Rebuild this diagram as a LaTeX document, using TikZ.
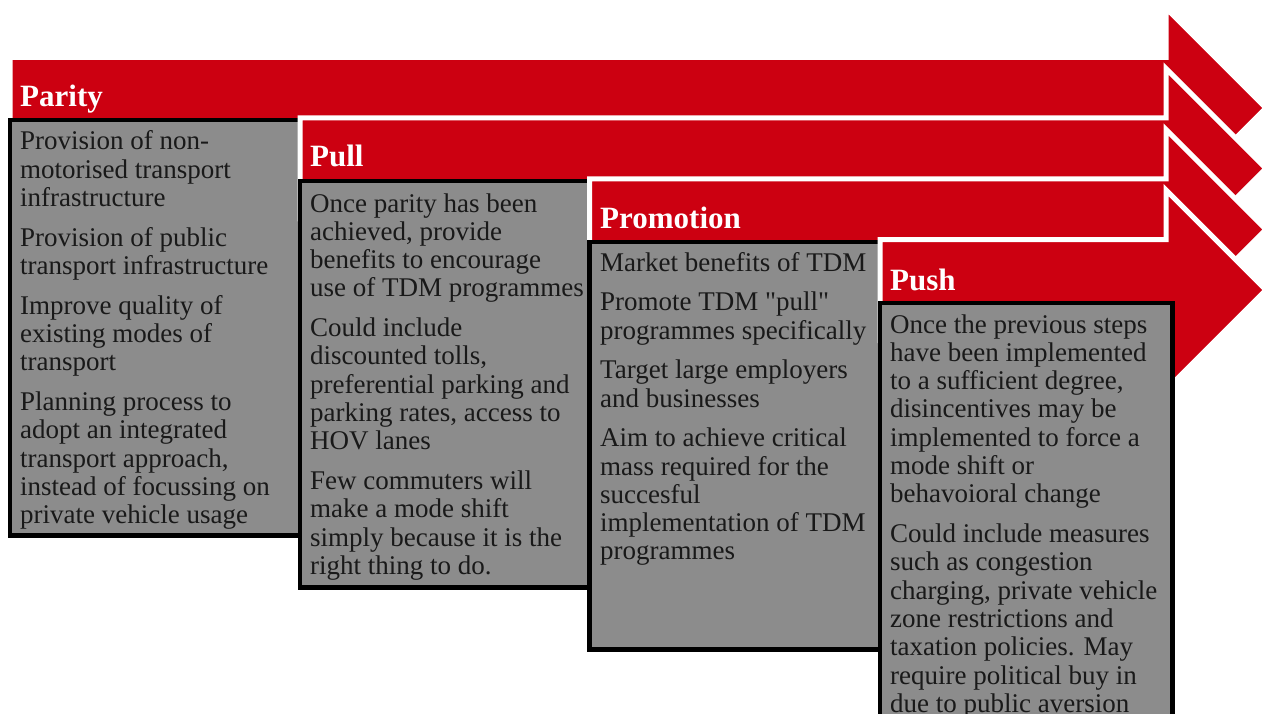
\documentclass[tikz,border=0pt]{standalone}
\usepackage{fontspec}
\setmainfont{Liberation Serif}
\definecolor{arrred}{RGB}{204,0,17}
\definecolor{boxgray}{RGB}{140,140,140}
\definecolor{textdark}{RGB}{25,25,25}
\newcommand\stagearrow[2]{%
  \draw[arrowshape] (#1,#2-50.5) -- (1166,#2-50.5) -- (1166,#2-100) -- (1266,#2)
    -- (1166,#2+100) -- (1166,#2+50.5) -- (#1,#2+50.5) -- cycle;}
\newcommand\tline[4]{\node[body] (#1) at (#2,#3) {#4};}
\begin{document}
\begin{tikzpicture}[x=1pt,y=-1pt,
  arrowshape/.style={fill=arrred, draw=white, line width=5pt, line join=miter, miter limit=10},
  panel/.style={fill=boxgray, draw=black, line width=4.5pt},
  title/.style={anchor=base west, inner sep=0pt, text=white, font=\fontsize{31}{34}\selectfont\bfseries},
  body/.style={anchor=base west, inner sep=0pt, text=textdark, font=\fontsize{27}{28}\selectfont}]
\useasboundingbox (0,0) rectangle (1266,714);
\clip (0,0) rectangle (1266,714);

% ---- stage 1: Parity
\stagearrow{10}{108}
\node[title] (tparity) at (20,107) {Parity};
\draw[panel] (10,120) rectangle (300,535.5);
\tline{a1}{20}{150}{Provision of non-}
\tline{a2}{20}{178.3}{motorised transport}
\tline{a3}{20}{206.6}{infrastructure}
\tline{a4}{20}{246.3}{Provision of public}
\tline{a5}{20}{274.6}{transport infrastructure}
\tline{a6}{20}{314.3}{Improve quality of}
\tline{a7}{20}{342.6}{existing modes of}
\tline{a8}{20}{370.9}{transport}
\tline{a9}{20}{410.6}{Planning process to}
\tline{a10}{20}{438.9}{adopt an integrated}
\tline{a11}{20}{467.2}{transport approach,}
\tline{a12}{20}{495.5}{instead of focussing on}
\tline{a13}{20}{523.8}{private vehicle usage}

% ---- stage 2: Pull
\stagearrow{300}{168.5}
\node[title] (tpull) at (310,167) {Pull};
\draw[panel] (300,181) rectangle (589.5,587.5);
\tline{b1}{310}{212}{Once parity has been}
\tline{b2}{310}{240.3}{achieved, provide}
\tline{b3}{310}{268.6}{benefits to encourage}
\tline{b4}{310}{296.9}{use of TDM programmes}
\tline{b5}{310}{336.6}{Could include}
\tline{b6}{310}{364.9}{discounted tolls,}
\tline{b7}{310}{393.2}{preferential parking and}
\tline{b8}{310}{421.5}{parking rates, access to}
\tline{b9}{310}{449.8}{HOV lanes}
\tline{b10}{310}{489.5}{Few commuters will}
\tline{b11}{310}{517.8}{make a mode shift}
\tline{b12}{310}{546.1}{simply because it is the}
\tline{b13}{310}{574.4}{right thing to do.}

% ---- stage 3: Promotion
\stagearrow{589.5}{229.5}
\node[title] (tpromotion) at (600,229) {Promotion};
\draw[panel] (589.5,242) rectangle (880,649.5);
\tline{c1}{600}{271}{Market benefits of TDM}
\tline{c2}{600}{310.7}{Promote TDM \textquotedbl pull\textquotedbl}
\tline{c3}{600}{339}{programmes specifically}
\tline{c4}{600}{378.7}{Target large employers}
\tline{c5}{600}{407}{and businesses}
\tline{c6}{600}{446.7}{Aim to achieve critical}
\tline{c7}{600}{475}{mass required for the}
\tline{c8}{600}{503.3}{succesful}
\tline{c9}{600}{531.6}{implementation of TDM}
\tline{c10}{600}{559.9}{programmes}

% ---- stage 4: Push
\stagearrow{880}{290}
\node[title] (tpush) at (890,290) {Push};
\draw[panel] (880,303) rectangle (1172.5,740);
\tline{d1}{890}{333}{Once the previous steps}
\tline{d2}{890}{361.3}{have been implemented}
\tline{d3}{890}{389.6}{to a sufficient degree,}
\tline{d4}{890}{417.9}{disincentives may be}
\tline{d5}{890}{446.2}{implemented to force a}
\tline{d6}{890}{474.5}{mode shift or}
\tline{d7}{890}{502.8}{behavoioral change}
\tline{d8}{890}{542.5}{Could include measures}
\tline{d9}{890}{570.8}{such as congestion}
\tline{d10}{890}{599.1}{charging, private vehicle}
\tline{d11}{890}{627.4}{zone restrictions and}
\tline{d12}{890}{655.7}{taxation policies. May}
\tline{d13}{890}{684}{require political buy in}
\tline{d14}{890}{712.3}{due to public aversion}
\end{tikzpicture}
\end{document}
